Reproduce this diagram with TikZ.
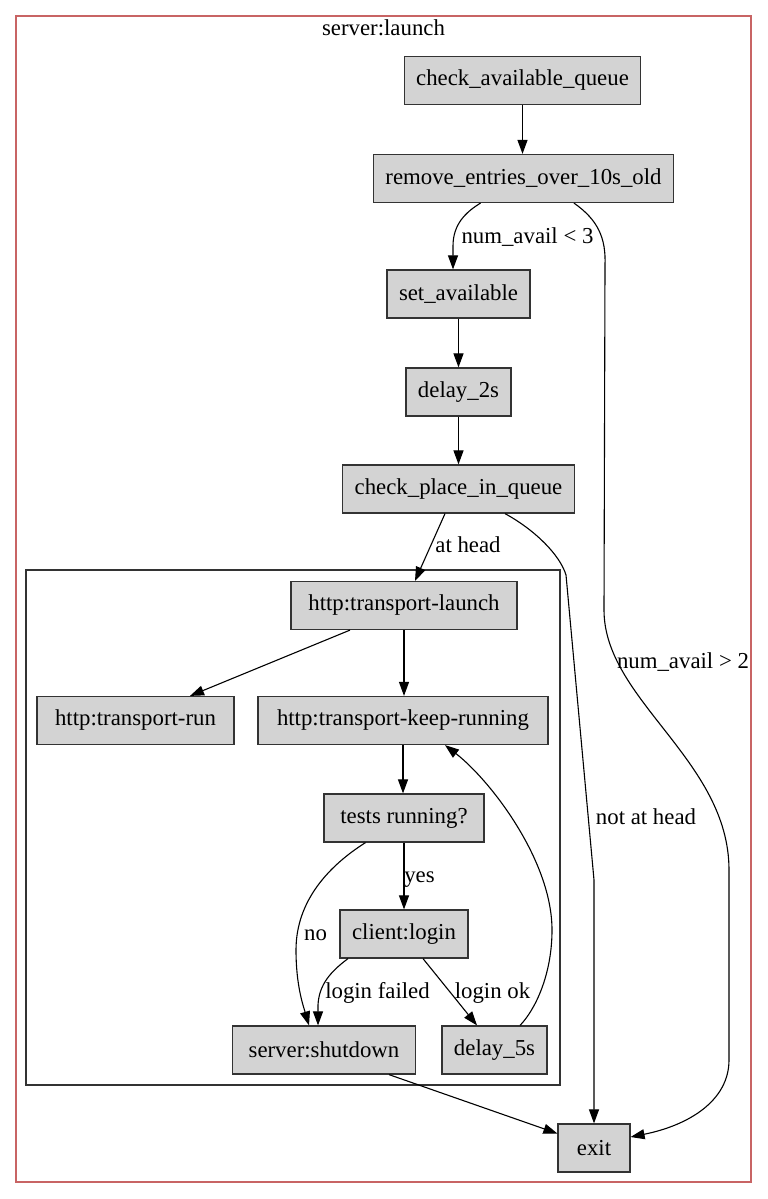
\documentclass[tikz,border=0pt]{standalone}
\usepackage{fontspec}
\setmainfont{Liberation Serif}
\usetikzlibrary{arrows.meta}
\definecolor{clusterred}{RGB}{200,100,100}
\definecolor{nodegray}{RGB}{211,211,211}

\begin{document}
\begin{tikzpicture}[x=1pt, y=-1pt,
  font=\fontsize{22.8}{26}\selectfont,
  state/.style={draw=black!80, fill=nodegray, line width=1.2pt, inner xsep=12pt, minimum height=48pt},
  edge/.style={draw, line width=1.1pt, -{Triangle[length=14pt,width=10pt]}},
  elabel/.style={inner sep=0pt, anchor=base}]
\useasboundingbox (0,0) rectangle (768,1199);

% clusters
\draw[clusterred, line width=1.3pt] (16,16) rectangle (751,1182);
\node[elabel] (launchlbl) at (383.5,36) {server:launch};
\draw[black!80, line width=1.2pt] (26,570) rectangle (560,1085);

% states
\node[state] (cq) at (522.5,80.5) {check\_available\_queue};
\node[state] (rm) at (523.5,178.5) {remove\_entries\_over\_10s\_old};
\node[state] (sa) at (458.5,294) {set\_available};
\node[state] (d2) at (458.5,392) {delay\_2s};
\node[state] (cp) at (458.5,489) {check\_place\_in\_queue};
\node[state, minimum width=226] (tl) at (404,605.5) {http:transport-launch};
\node[state, minimum width=197] (tr) at (135.5,720.5) {http:transport-run};
\node[state, minimum width=290] (tk) at (403,720.5) {http:transport-keep-running};
\node[state, minimum width=160] (ts) at (404,818) {tests running?};
\node[state] (cl) at (404,934) {client:login};
\node[state, minimum width=183] (sd) at (324,1050) {server:shutdown};
\node[state] (d5) at (494.5,1050) {delay\_5s};
\node[state, minimum width=72] (exit) at (594,1148) {exit};

% transitions
\draw[edge] (cq.south) -- (cq.south |- rm.north);
\draw[edge] ([xshift=-43]rm.south) .. controls (466,212) and (453,224) .. (453,246) -- ([xshift=-5.5]sa.north);
\draw[edge] ([xshift=50.5]rm.south) .. controls (598,220) and (606,238) .. (605,265) -- (604,610)
  .. controls (604,700) and (729,760) .. (729,870) -- (729,1060)
  .. controls (729,1100) and (690,1125) .. ([yshift=11]exit.east);
\draw[edge] (sa) -- (d2);
\draw[edge] (d2) -- (cp);
\draw[edge] ([xshift=-13.5]cp.south) -- ([xshift=11]tl.north);
\draw[edge] ([xshift=46.5]cp.south) .. controls (535,530) and (560,555) .. (566,575) -- (594,880) -- (exit.north);
\draw[edge] ([xshift=-54]tl.south) -- ([xshift=54.5]tr.north);
\draw[edge] (tl.south) -- (tl.south |- tk.north);
\draw[edge] (tk.south) -- (tk.south |- ts.north);
\draw[edge] (ts) -- (cl);
\draw[edge] ([xshift=-38.5]ts.south) .. controls (330,865) and (296,900) .. (296,950)
  .. controls (296,985) and (303,1005) .. ([xshift=-15]sd.north);
\draw[edge] ([xshift=-56]cl.south) .. controls (330,972) and (319,985) .. (318,1005) -- ([xshift=-6]sd.north);
\draw[edge] ([xshift=19]cl.south) -- ([xshift=-17.5]d5.north);
\draw[edge] ([xshift=25.5]d5.north) .. controls (535,1010) and (552,975) .. (552,930)
  .. controls (552,860) and (490,780) .. ([xshift=42]tk.south);
\draw[edge] ([xshift=65]sd.south) -- ([yshift=14.5]exit.west);

% labels
\node[elabel] (availlow) at (527.5,243) {num\_avail < 3};
\node[elabel] (availhigh) at (683,668) {num\_avail > 2};
\node[elabel] (athead) at (468,552) {at head};
\node[elabel] (notathead) at (646,824) {not at head};
\node[elabel] (yes) at (419.5,882) {yes};
\node[elabel] (no) at (315.5,940) {no};
\node[elabel] (loginfail) at (377.5,998) {login failed};
\node[elabel] (loginok) at (492.5,998) {login ok};
\end{tikzpicture}
\end{document}
